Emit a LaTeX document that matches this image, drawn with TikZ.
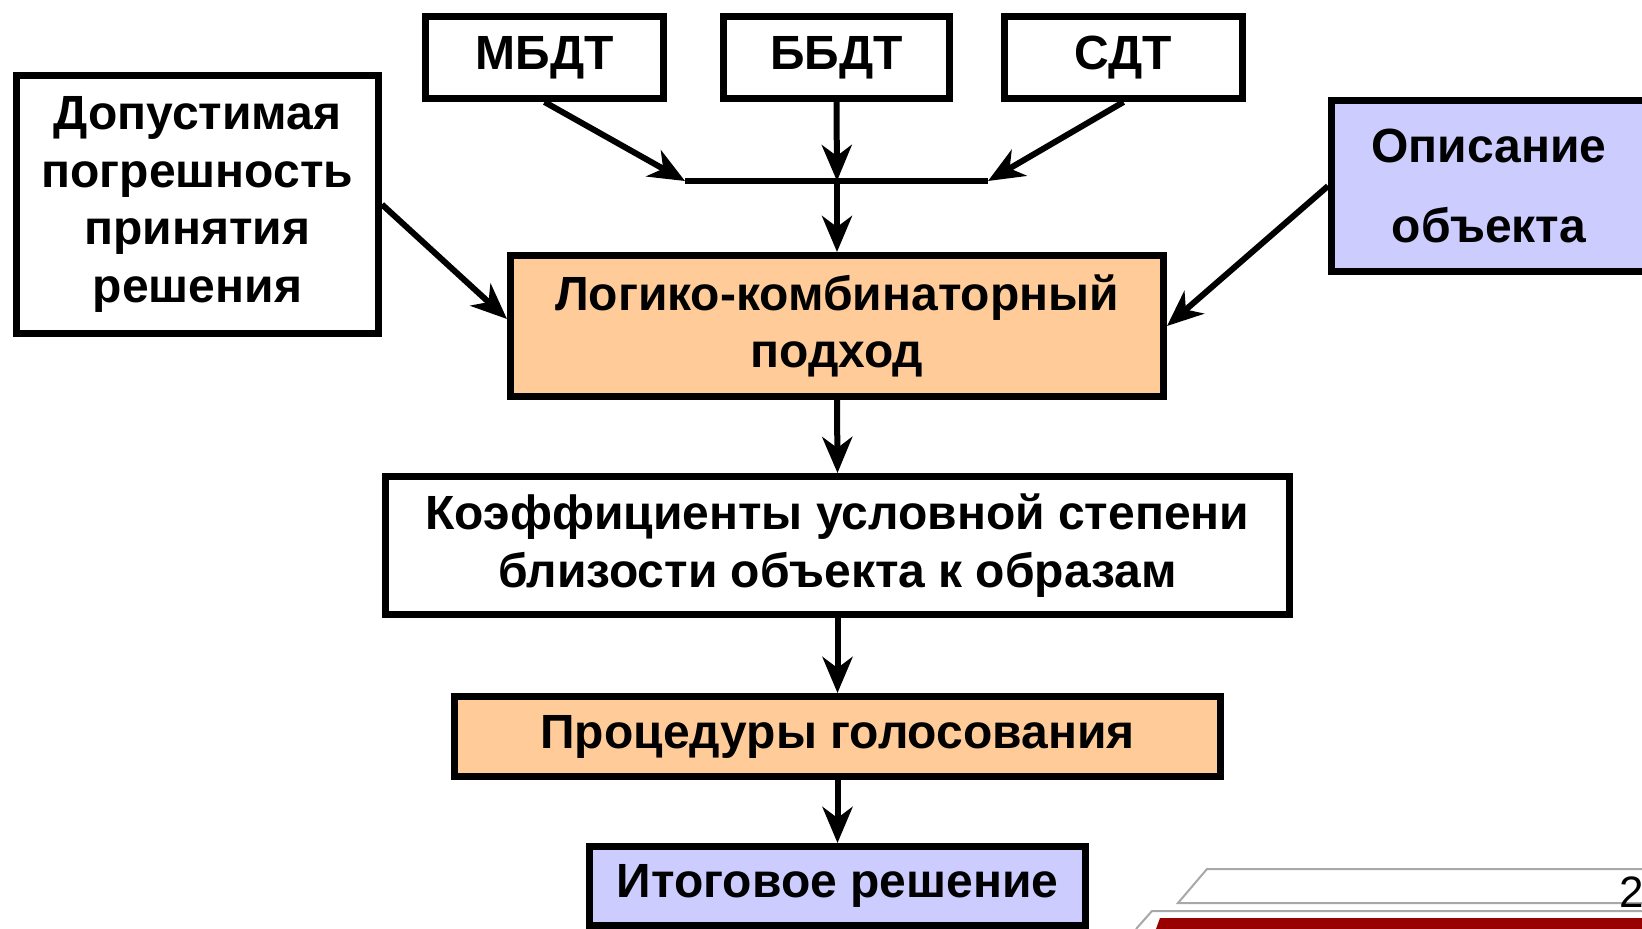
\documentclass[tikz,border=0pt]{standalone}
\usepackage{fontspec}
\setmainfont{Liberation Sans}
\usetikzlibrary{arrows.meta,calc}
\definecolor{peach}{HTML}{FFCC99}
\definecolor{lilac}{HTML}{CCCCFF}
\definecolor{darkred}{HTML}{990000}
\definecolor{decogray}{HTML}{A8A8A8}
\tikzset{
  box/.style={draw=black, line width=7pt, inner sep=0pt, align=center,
    font=\bfseries\fontsize{48}{57.6}\selectfont},
  conn/.style={line width=6pt, -{Stealth[length=36pt,width=30pt,inset=11pt]}},
  plain/.style={line width=6pt},
  deco/.style={draw=decogray, line width=2pt},
}
\begin{document}
\begin{tikzpicture}[x=1pt,y=-1pt]
\useasboundingbox (0,0) rectangle (1642,929);
\clip (0,0) rectangle (1642,929);
\fill[white] (0,0) rectangle (1642,929);

% top boxes
\node[box, minimum width=238pt, minimum height=82pt] (mbdt) at (544.5,57.5) {МБДТ};
\node[box, minimum width=226pt, minimum height=82pt] (bbdt) at (836.5,57.5) {ББДТ};
\node[box, minimum width=238pt, minimum height=82pt] (sdt) at (1123.5,57.5) {СДТ};

\node[box, minimum width=362pt, minimum height=258pt] (dop) at (197.5,204.5)
  {Допустимая\\погрешность\\принятия\\решения};
\node[box, fill=lilac, minimum width=315pt, minimum height=171pt,
  font=\bfseries\fontsize{48}{80}\selectfont] (opis) at (1489,186)
  {Описание\\объекта};

\node[box, fill=peach, minimum width=653pt, minimum height=141pt] (logic) at (837,326)
  {Логико-комбинаторный\\подход};
\node[box, minimum width=904pt, minimum height=138pt] (koef) at (837.5,545.5)
  {Коэффициенты условной степени\\близости объекта к образам};
\node[box, fill=peach, minimum width=766pt, minimum height=80pt] (proc) at (837.5,736.5)
  {Процедуры голосования};
\node[box, fill=lilac, minimum width=496pt, minimum height=79pt] (itog) at (837.5,886)
  {Итоговое решение};

% collector bar
\coordinate (barL) at (685,181);
\coordinate (barM) at (837,181);
\coordinate (barR) at (988,181);
\draw[plain] (barL) -- (barR);

\draw[conn] (mbdt.south) -- (barL);
\draw[conn] (bbdt.south) -- (barM);
\draw[conn] (sdt.south) -- (barR);
\draw[conn] (barM) -- (logic.north);
\draw[conn] (dop.east) -- ($(logic.west)+(0,-7)$);
\draw[conn] (opis.west) -- (logic.east);
\draw[conn] (logic.south) -- (koef.north);
\draw[conn] (koef.south) -- (proc.north);
\draw[conn] (proc.south) -- (itog.north);

% bottom-right decoration
\fill[darkred] (1160,918) -- (1660,918) -- (1660,940) -- (1152,940) -- cycle;
\draw[deco] (1660,869) -- (1207,869) -- (1178,903) -- (1660,903);
\draw[deco] (1660,911) -- (1152,911) -- (1136,929);
\node[anchor=base west, inner sep=0pt, font=\fontsize{44}{52}\selectfont] (pnum) at (1619,907) {2};
\end{tikzpicture}
\end{document}
